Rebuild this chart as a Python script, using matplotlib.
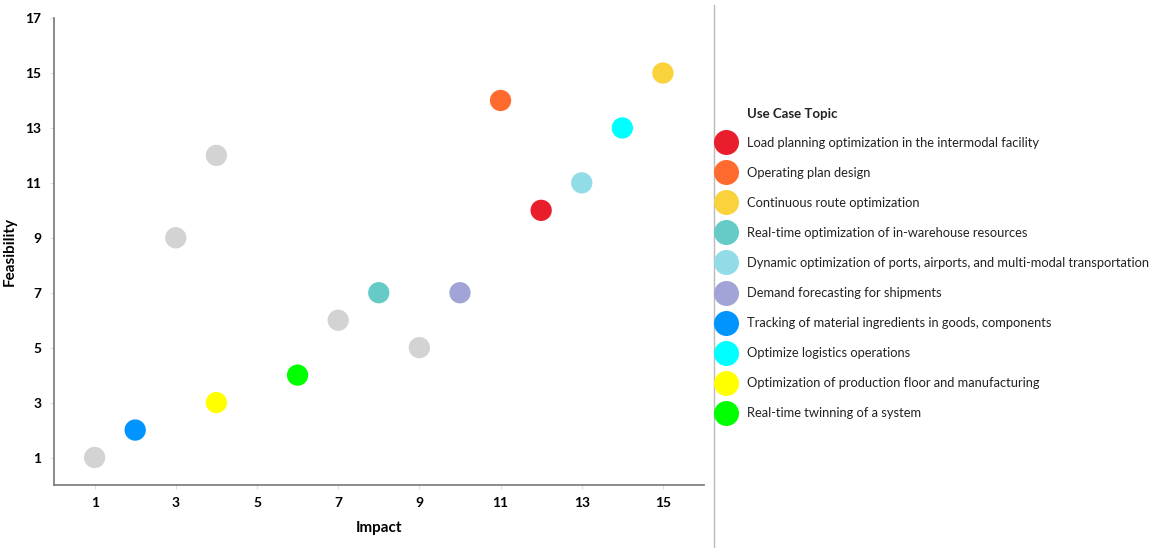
import matplotlib.pyplot as plt
from matplotlib.lines import Line2D

plt.rcParams['font.family'] = ['Lato', 'DejaVu Sans']

# topic names shown in the legend, in legend order
topics = [
    'Load planning optimization in the intermodal facility',
    'Operating plan design',
    'Continuous route optimization',
    'Real-time optimization of in-warehouse resources',
    'Dynamic optimization of ports, airports, and multi-modal transportation',
    'Demand forecasting for shipments',
    'Tracking of material ingredients in goods, components',
    'Optimize logistics operations',
    'Optimization of production floor and manufacturing',
    'Real-time twinning of a system',
]
topic_colors = ['#e81e2c', '#ff6b2f', '#fad23c', '#66cbc6', '#92dce8',
                '#a2a3d6', '#0094ff', '#00ffff', '#ffff00', '#00ff00']

# scored topics: impact / feasibility
topic_impact = [12, 11, 15, 8, 13, 10, 2, 14, 4, 6]
topic_feasibility = [10, 14, 15, 7, 11, 7, 2, 13, 3, 4]

# other use cases (grey)
other_impact = [1, 3, 4, 7, 9]
other_feasibility = [1, 9, 12, 6, 5]

fig = plt.figure(figsize=(11.64, 5.48), dpi=100)
ax = fig.add_axes([0.0464, 0.115, 0.558, 0.852])

ax.scatter(other_impact, other_feasibility, s=235, color='#d3d3d3',
           edgecolors='none', zorder=3)
ax.scatter(topic_impact, topic_feasibility, s=235, c=topic_colors,
           edgecolors='none', zorder=3)

ax.set_xlim(0, 16)
ax.set_ylim(0, 17)
ax.set_xticks(range(1, 16, 2))
ax.set_yticks(range(1, 18, 2))
for s in ['top', 'right']:
    ax.spines[s].set_visible(False)
for s in ['left', 'bottom']:
    ax.spines[s].set_color('#777777')
    ax.spines[s].set_linewidth(1.2)
ax.tick_params(length=3, color='#dddddd', labelsize=10, pad=6)
for lbl in ax.get_xticklabels() + ax.get_yticklabels():
    lbl.set_fontweight('bold')
ax.set_xlabel('Impact', fontsize=11, fontweight='bold', labelpad=8)
ax.set_ylabel('Feasibility', fontsize=11, fontweight='bold')
ax.yaxis.set_label_coords(-0.058, 0.5)

# separator between chart and legend
fig.add_artist(Line2D([714 / 1164, 714 / 1164], [0, 0.99], color='#bbbbbb',
                      linewidth=1, transform=fig.transFigure))

fig.text(747 / 1164, 1 - 114 / 548, 'Use Case Topic', fontsize=9.5,
         fontweight='bold', va='center', ha='left', color='#222222')

handles = [Line2D([], [], marker='o', linestyle='', markersize=18,
                  markerfacecolor=c, markeredgecolor='none') for c in topic_colors]
leg = fig.legend(handles, topics,
                 loc='upper left', bbox_to_anchor=(705 / 1164, 1 - 125 / 548),
                 frameon=False, fontsize=9.3,
                 labelspacing=1.4, handletextpad=0.85, handlelength=1.5)
for t in leg.get_texts():
    t.set_color('#222222')

fig.savefig('out.png', dpi=100)
